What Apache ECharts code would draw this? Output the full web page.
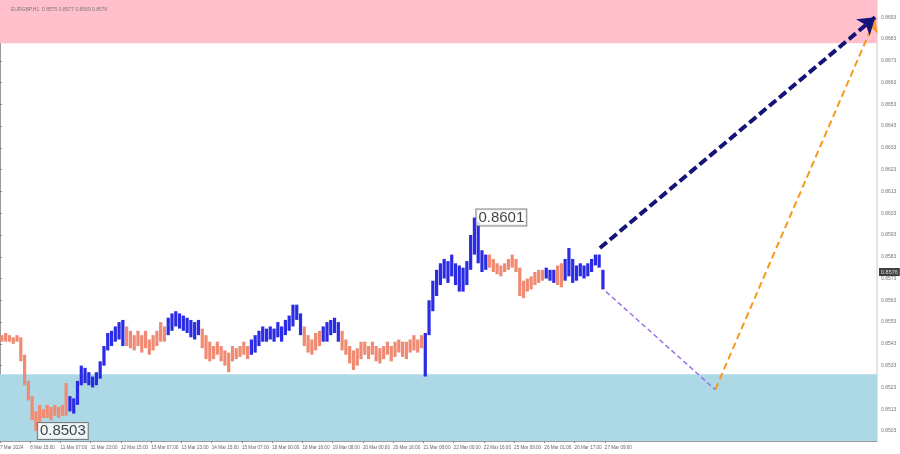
<!DOCTYPE html>
<html><head><meta charset="utf-8">
<script src="https://cdn.jsdelivr.net/npm/echarts@6/dist/echarts.min.js"></script>
<style>html,body{margin:0;padding:0;background:#fff}#c{width:900px;height:454px}</style>
</head><body><div id="c"></div>
<script>
// EURGBP H1, bars aggregated by 2 hours (index = bar number)
const lows = [0.8544,0.8544,0.8544,0.8543,0.8544,0.8535,0.8524,0.8517,0.8508,0.8503,
0.8507,0.8509,0.8509,0.8508,0.8510,0.8509,0.8510,0.8510,0.8512,0.8511,
0.8515,0.8524,0.8525,0.8524,0.8523,0.8524,0.8527,0.8533,0.8540,0.8542,
0.8544,0.8545,0.8542,0.8542,0.8541,0.8540,0.8542,0.8539,0.8541,0.8538,
0.8540,0.8542,0.8544,0.8544,0.8547,0.8549,0.8551,0.8550,0.8549,0.8548,
0.8546,0.8545,0.8547,0.8541,0.8536,0.8535,0.8536,0.8538,0.8535,0.8533,
0.8530,0.8535,0.8536,0.8537,0.8538,0.8536,0.8538,0.8539,0.8542,0.8544,
0.8544,0.8545,0.8544,0.8546,0.8544,0.8547,0.8549,0.8551,0.8554,0.8547,
0.8542,0.8539,0.8538,0.8540,0.8542,0.8544,0.8544,0.8547,0.8548,0.8544,
0.8540,0.8538,0.8534,0.8531,0.8533,0.8536,0.8538,0.8536,0.8538,0.8535,
0.8534,0.8536,0.8538,0.8535,0.8537,0.8539,0.8537,0.8536,0.8539,0.8540,
0.8539,0.8541,0.8528,0.8547,0.8558,0.8565,0.8570,0.8573,0.8571,0.8574,
0.8570,0.8567,0.8567,0.8570,0.8577,0.8584,0.8580,0.8576,0.8577,0.8578,
0.8576,0.8575,0.8574,0.8576,0.8577,0.8578,0.8576,0.8565,0.8564,0.8567,
0.8568,0.8570,0.8571,0.8572,0.8573,0.8572,0.8571,0.8570,0.8569,0.8572,
0.8574,0.8571,0.8572,0.8574,0.8573,0.8574,0.8576,0.8579,0.8578,0.8568];
const highs = [0.8547,0.8548,0.8547,0.8546,0.8547,0.8546,0.8538,0.8526,0.8519,0.8512,
0.8515,0.8513,0.8515,0.8514,0.8515,0.8514,0.8515,0.8525,0.8519,0.8518,
0.8526,0.8533,0.8532,0.8530,0.8528,0.8530,0.8535,0.8542,0.8548,0.8549,
0.8551,0.8553,0.8554,0.8551,0.8549,0.8547,0.8549,0.8547,0.8549,0.8545,
0.8547,0.8549,0.8553,0.8551,0.8555,0.8557,0.8558,0.8557,0.8556,0.8555,
0.8554,0.8553,0.8554,0.8550,0.8547,0.8544,0.8542,0.8544,0.8542,0.8540,
0.8539,0.8542,0.8541,0.8542,0.8544,0.8542,0.8545,0.8547,0.8549,0.8551,
0.8550,0.8551,0.8550,0.8553,0.8551,0.8554,0.8556,0.8561,0.8561,0.8557,
0.8551,0.8547,0.8545,0.8548,0.8549,0.8551,0.8553,0.8554,0.8555,0.8553,
0.8549,0.8545,0.8542,0.8540,0.8541,0.8544,0.8544,0.8542,0.8544,0.8542,
0.8541,0.8542,0.8544,0.8542,0.8544,0.8545,0.8544,0.8544,0.8545,0.8547,
0.8545,0.8547,0.8548,0.8563,0.8572,0.8577,0.8580,0.8582,0.8581,0.8584,
0.8580,0.8579,0.8578,0.8581,0.8593,0.8601,0.8599,0.8586,0.8584,0.8584,
0.8582,0.8580,0.8579,0.8580,0.8582,0.8584,0.8582,0.8578,0.8572,0.8573,
0.8574,0.8576,0.8577,0.8577,0.8578,0.8577,0.8577,0.8579,0.8580,0.8582,
0.8587,0.8582,0.8579,0.8580,0.8579,0.8580,0.8582,0.8584,0.8584,0.8577];
// wave segments: [firstBar, lastBar, kind] kind 'up' = blue, 'dn' = salmon
const waves = [[0,17,'dn'],[18,32,'up'],[33,43,'dn'],[44,52,'up'],[53,65,'dn'],[66,79,'up'],
[80,84,'dn'],[85,89,'up'],[90,111,'dn'],[112,128,'up'],[129,143,'dn'],[144,146,'up'],[147,148,'dn'],[149,159,'up']];
const xLabels = ["7 Mar 2024","8 Mar 15:00","11 Mar 07:00","11 Mar 23:00","12 Mar 15:00","13 Mar 07:00","13 Mar 23:00","14 Mar 15:00","15 Mar 07:00","18 Mar 00:00","18 Mar 16:00","19 Mar 08:00","20 Mar 00:00","20 Mar 16:00","21 Mar 08:00","22 Mar 00:00","22 Mar 16:00","25 Mar 09:00","26 Mar 01:00","26 Mar 17:00","27 Mar 09:00"];
const xLabelStep = 8;
const yTicks = [0.8503,0.8513,0.8523,0.8533,0.8543,0.8553,0.8563,0.8573,0.8583,0.8593,0.8603,0.8613,0.8623,0.8633,0.8643,0.8653,0.8663,0.8673,0.8683,0.8693];
const sellZone = [0.8681, 0.8702];
const buyZone = [0.8498, 0.8529];
const lowMark = [9.5, 0.8503];
const highMark = [125.5, 0.8601];
const lastPrice = 0.8576;
const forecastMain = [[158.7, 0.8587],[231.5, 0.8693]];
const forecastDip = [[160.3, 0.8567],[189.2, 0.8522]];
const forecastAlt = [[189.2, 0.8522],[231.5, 0.8692]];
const headerText = "EURGBP,H1  0.8575 0.8577 0.8569 0.8576";
const xMax = 232;

const kindOf = [];
waves.forEach(w => { for (let i = w[0]; i <= w[1]; i++) kindOf[i] = w[2]; });
const COL = {up:'#2b2be6', dn:'#f08a72'};
const barData = lows.map((l, i) => [i, l, highs[i]]);

const chart = echarts.init(document.getElementById('c'), null, {renderer:'canvas'});
const fwd = (pair, color, width, dash, arrow, asize) => ({
  type:'line', data: pair, showSymbol:false, symbol:'none', silent:true,
  lineStyle:{opacity:0}, animation:false, z:5,
  markLine:{silent:true, animation:false, symbol:['none', arrow ? 'arrow' : 'none'], symbolSize: asize,
    label:{show:false}, lineStyle:{color, width, type: dash, opacity:1},
    data:[[{coord: pair[0]}, {coord: pair[1]}]]}
});
chart.setOption({
  animation:false,
  backgroundColor:'#fff',
  title:{text: headerText, left:6, top:2, textStyle:{fontSize:5, color:'#777', fontWeight:'normal', fontFamily:'Liberation Sans'}},
  grid:{left:0, right:23, top:0, bottom:13, show:true, borderColor:'#aaa', borderWidth:0.6, outerBoundsMode:'none'},
  xAxis:{type:'value', min:0, max:xMax, position:'bottom',
    axisLine:{show:true, lineStyle:{color:'#888', width:0.8}},
    axisTick:{show:true, customValues: xLabels.map((_, k) => k*xLabelStep), length:2, lineStyle:{color:'#888'}},
    axisLabel:{customValues: xLabels.map((_, k) => k*xLabelStep), formatter: v => xLabels[Math.round(v/xLabelStep)] || '',
      fontSize:4.6, color:'#666', align:'left', margin:4, fontFamily:'Liberation Sans'},
    splitLine:{show:false}},
  yAxis:{type:'value', position:'right', min:0.84984, max:0.87009, scale:true,
    axisLine:{show:true, lineStyle:{color:'#888', width:0.8}},
    axisTick:{show:true, customValues: yTicks, length:2, lineStyle:{color:'#888'}},
    axisLabel:{customValues: yTicks, formatter: v => v.toFixed(4), fontSize:5, color:'#777', margin:4, fontFamily:'Liberation Sans'},
    splitLine:{show:false}},
  series:[
    {type:'custom', data: barData, encode:{x:0, y:[1,2]}, z:3, clip:true,
      renderItem:(params, api) => {
        const i = api.value(0);
        const lo = api.coord([i+0.5, api.value(1)]);
        const hi = api.coord([i+0.5, api.value(2)]);
        const w = 3.2;
        return {type:'rect', shape:{x: lo[0]-w/2, y: hi[1], width: w, height: Math.max(1, lo[1]-hi[1])},
          style:{fill: COL[kindOf[i]]}};
      },
      markArea:{silent:true, itemStyle:{opacity:1}, data:[
        [{yAxis: sellZone[0], itemStyle:{color:'#ffc0cb'}}, {yAxis: sellZone[1]}],
        [{yAxis: buyZone[0], itemStyle:{color:'#add8e6'}}, {yAxis: buyZone[1]}]
      ]}
    },
    fwd(forecastDip, '#9a6be0', 1.4, [5,3], false, 0),
    fwd(forecastAlt, '#f59a1c', 2, [7,4], true, 12),
    fwd(forecastMain, '#141478', 4, [9,4], true, 16),
    {type:'scatter', symbolSize:0, z:6, silent:true, clip:false,
      data:[lowMark, highMark],
      label:{show:true, position:'right', distance:2, formatter: p => p.value[1].toFixed(4),
        fontSize:15, color:'#111', backgroundColor:'#fff', borderColor:'#666', borderWidth:1, padding:[1,2,0,2],
        fontFamily:'Liberation Sans'}},
    {type:'scatter', symbolSize:0, z:7, silent:true, clip:false,
      data:[[xMax, lastPrice]],
      label:{show:true, position:'right', distance:2, formatter: p => p.value[1].toFixed(4),
        fontSize:5.5, color:'#fff', backgroundColor:'#111', padding:[1,2], fontFamily:'Liberation Sans'}}
  ]
});
</script></body></html>
